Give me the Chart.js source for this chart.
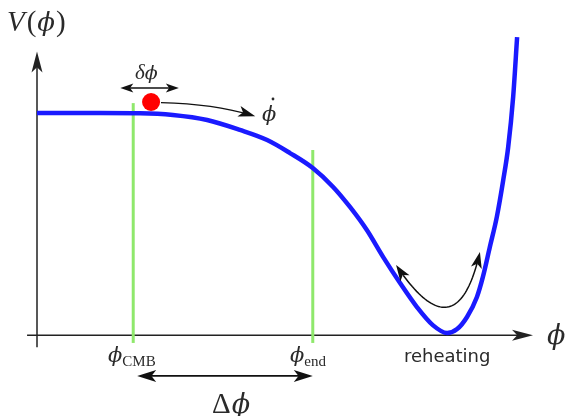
<!DOCTYPE html>
<html>
<head>
<meta charset="utf-8">
<script src="https://cdn.jsdelivr.net/npm/chart.js@4/dist/chart.umd.min.js"></script>
<style>
  html, body { margin: 0; padding: 0; background: #fff; }
  #wrap { width: 569px; height: 416px; }
</style>
</head>
<body>
<div id="wrap"><canvas id="pot"></canvas></div>
<script>
// potential V(phi)
const phiVals = [0, 1.27, 2.08, 2.74, 3.43, 4.09, 4.64, 5.10, 5.56, 5.97, 6.31, 6.65, 6.98, 7.32, 7.66, 7.98, 8.27, 8.47, 8.67, 8.87, 8.99, 9.13, 9.27, 9.40, 9.50, 9.60, 9.68];
const potVals = [1.0, 1.0, 0.999, 0.991, 0.968, 0.923, 0.877, 0.818, 0.75, 0.664, 0.573, 0.468, 0.345, 0.227, 0.118, 0.036, 0, 0.018, 0.073, 0.164, 0.255, 0.391, 0.527, 0.695, 0.845, 1.073, 1.345];

// field values marked by the green lines
const phiCMB = 1.94;
const phiEnd = 5.56;
const markerTop = [1.045, 0.832];
const markerBottom = -0.045;

// inflaton position (red dot)
const ballPhi = 2.30;
const ballV = 1.05;

const curve = phiVals.map((x, i) => ({ x, y: potVals[i] }));

const SERIF = '"Liberation Serif"';
const PHI = '"DejaVu Serif"';

function arrowHead(ctx, x, y, ang, len, half) {
  ctx.save();
  ctx.translate(x, y);
  ctx.rotate(ang);
  ctx.beginPath();
  ctx.moveTo(0, 0);
  ctx.lineTo(-len, -half);
  ctx.lineTo(-len * 0.75, 0);
  ctx.lineTo(-len, half);
  ctx.closePath();
  ctx.fill();
  ctx.restore();
}

// draw pieces of text one after another: [text, font, dy, gap]
function runs(ctx, x, y, parts) {
  ctx.textAlign = 'left';
  for (const [txt, font, dy, gap] of parts) {
    ctx.font = font;
    ctx.fillText(txt, x, y + (dy || 0));
    x += ctx.measureText(txt).width + (gap || 0);
  }
  return x;
}

const decor = {
  id: 'decor',
  beforeDatasetsDraw(chart) {
    const { ctx, scales: { x, y } } = chart;
    const X = v => x.getPixelForValue(v), Y = v => y.getPixelForValue(v);
    ctx.save();
    ctx.strokeStyle = '#222';
    ctx.fillStyle = '#222';
    ctx.lineWidth = 1.5;
    // axes
    ctx.beginPath();
    ctx.moveTo(X(0), Y(-0.065));
    ctx.lineTo(X(0), Y(1.28) + 10);
    ctx.moveTo(X(-0.2), Y(-0.01));
    ctx.lineTo(X(10.0) - 10, Y(-0.01));
    ctx.stroke();
    arrowHead(ctx, X(0), Y(1.28), -Math.PI / 2, 21, 5.5);
    arrowHead(ctx, X(10.0), Y(-0.01), 0, 21, 5.5);
    ctx.restore();
  },
  afterDatasetsDraw(chart) {
    const { ctx, scales: { x, y } } = chart;
    const X = v => x.getPixelForValue(v), Y = v => y.getPixelForValue(v);
    ctx.save();
    ctx.strokeStyle = '#111';
    ctx.fillStyle = '#111';
    ctx.lineWidth = 1.4;

    // delta phi double arrow
    const dy = Y(1.114);
    ctx.beginPath();
    ctx.moveTo(X(1.68) + 8, dy);
    ctx.lineTo(X(2.86) - 8, dy);
    ctx.stroke();
    arrowHead(ctx, X(1.68), dy, Math.PI, 13, 4.5);
    arrowHead(ctx, X(2.86), dy, 0, 13, 4.5);

    // phi dot arrow
    const p0 = [X(2.5), Y(1.047)], c = [X(3.6), Y(1.04)], p2 = [X(4.4), Y(0.985)];
    ctx.beginPath();
    ctx.moveTo(p0[0], p0[1]);
    ctx.quadraticCurveTo(c[0], c[1], p2[0] - 6, p2[1] - 1.5);
    ctx.stroke();
    arrowHead(ctx, p2[0], p2[1], Math.atan2(p2[1] - c[1], p2[0] - c[0]), 17, 5.5);

    // Delta phi double arrow
    const Dy = Y(-0.195);
    ctx.lineWidth = 1.7;
    ctx.beginPath();
    ctx.moveTo(X(2.02) + 12, Dy);
    ctx.lineTo(X(5.56) - 12, Dy);
    ctx.stroke();
    arrowHead(ctx, X(2.02), Dy, Math.PI, 19, 6);
    arrowHead(ctx, X(5.56), Dy, 0, 19, 6);

    // oscillation arrow
    const a0 = [X(7.24), Y(0.309)], a2 = [X(8.93), Y(0.368)];
    const b = [X(8.27), Y(0.118)];
    const cc = [2 * b[0] - 0.5 * (a0[0] + a2[0]), 2 * b[1] - 0.5 * (a0[1] + a2[1])];
    const q = t => [
      (1 - t) * (1 - t) * a0[0] + 2 * (1 - t) * t * cc[0] + t * t * a2[0],
      (1 - t) * (1 - t) * a0[1] + 2 * (1 - t) * t * cc[1] + t * t * a2[1]
    ];
    ctx.lineWidth = 1.5;
    ctx.beginPath();
    ctx.moveTo(...q(0.06));
    for (let t = 0.08; t <= 0.94 + 1e-6; t += 0.02) ctx.lineTo(...q(t));
    ctx.stroke();
    arrowHead(ctx, a0[0], a0[1], Math.atan2(a0[1] - cc[1], a0[0] - cc[0]), 16, 5.5);
    arrowHead(ctx, a2[0], a2[1], Math.atan2(a2[1] - cc[1], a2[0] - cc[0]), 16, 5.5);

    // labels
    ctx.fillStyle = '#2a2a2a';
    ctx.textBaseline = 'alphabetic';
    runs(ctx, 7, 31, [
      ['V', 'italic 29px ' + SERIF, 0, 2],
      ['(', '29px ' + SERIF, 0, 1],
      ['ϕ', 'italic 26px ' + PHI, 0, 1],
      [')', '29px ' + SERIF]
    ]);
    runs(ctx, 547, 344, [['ϕ', 'italic 27px ' + PHI]]);

    runs(ctx, 135, 79, [
      ['δ', 'italic 21px ' + SERIF],
      ['ϕ', 'italic 19px ' + PHI]
    ]);

    const dotX = 262;
    runs(ctx, dotX, 121, [['ϕ', 'italic 21px ' + PHI]]);
    ctx.beginPath();
    ctx.arc(dotX + 11, 99, 1.4, 0, Math.PI * 2);
    ctx.fill();

    runs(ctx, 212, 413, [
      ['Δ', '29px ' + SERIF, 0, 1],
      ['ϕ', 'italic 27px ' + PHI]
    ]);

    runs(ctx, 108, 362, [
      ['ϕ', 'italic 21px ' + PHI],
      ['CMB', '15px ' + SERIF, 4]
    ]);
    runs(ctx, 290, 362, [
      ['ϕ', 'italic 21px ' + PHI],
      ['end', '15px ' + SERIF, 4]
    ]);

    ctx.textAlign = 'center';
    ctx.font = '18px "DejaVu Sans"';
    ctx.fillText('reheating', X(8.27), 362);
    ctx.restore();
  }
};

new Chart(document.getElementById('pot'), {
  type: 'scatter',
  data: {
    datasets: [
      {
        data: [{ x: phiCMB, y: markerBottom }, { x: phiCMB, y: markerTop[0] }],
        showLine: true, borderColor: '#8fe86c', borderWidth: 3, pointRadius: 0, order: 3
      },
      {
        data: [{ x: phiEnd, y: markerBottom }, { x: phiEnd, y: markerTop[1] }],
        showLine: true, borderColor: '#8fe86c', borderWidth: 3, pointRadius: 0, order: 3
      },
      {
        data: curve,
        showLine: true, borderColor: '#1a1aff', borderWidth: 4.5, pointRadius: 0,
        cubicInterpolationMode: 'monotone', order: 2
      },
      {
        data: [{ x: ballPhi, y: ballV }],
        pointRadius: 9, pointBackgroundColor: '#ff0000', pointBorderWidth: 0, order: 1
      }
    ]
  },
  options: {
    responsive: true,
    maintainAspectRatio: false,
    animation: false,
    layout: { padding: 0, autoPadding: false },
    plugins: { legend: { display: false }, tooltip: { enabled: false } },
    scales: {
      x: { type: 'linear', min: -0.746, max: 10.726, display: false },
      y: { type: 'linear', min: -0.377, max: 1.5136, display: false }
    },
    elements: { line: { borderCapStyle: 'butt' } }
  },
  plugins: [decor]
});
</script>
</body>
</html>
